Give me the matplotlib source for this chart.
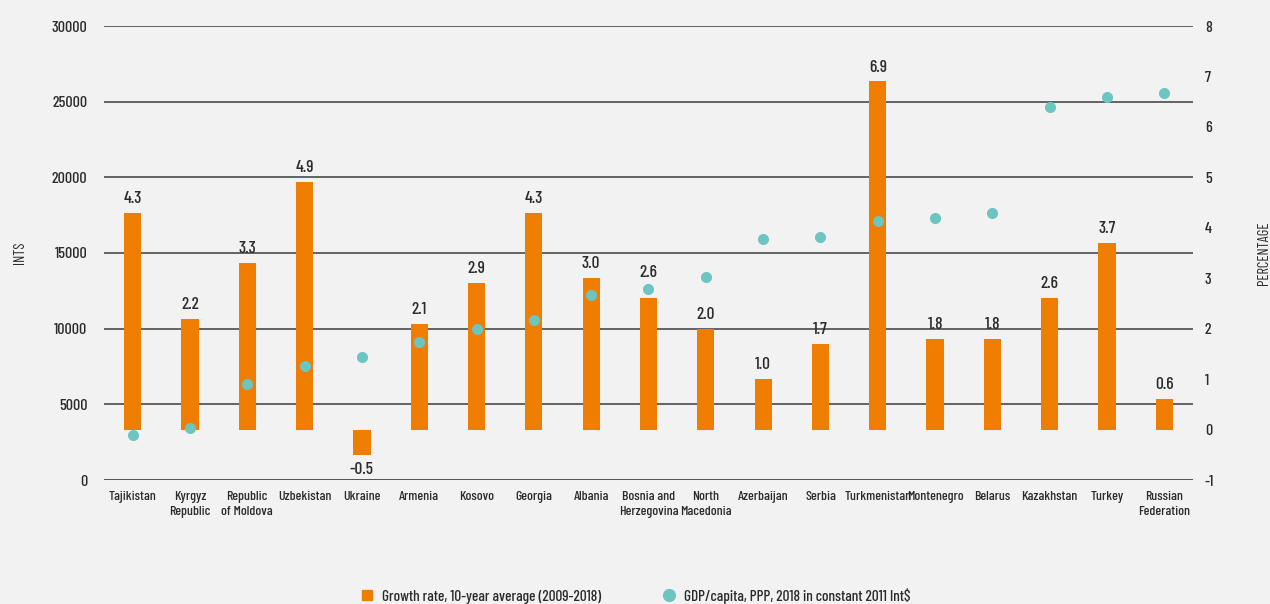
import matplotlib
matplotlib.use("Agg")
import matplotlib.pyplot as plt
from matplotlib.lines import Line2D
import numpy as np

countries = ["Tajikistan", "Kyrgyz\nRepublic", "Republic\nof Moldova", "Uzbekistan", "Ukraine",
             "Armenia", "Kosovo", "Georgia", "Albania", "Bosnia and\nHerzegovina", "North\nMacedonia",
             "Azerbaijan", "Serbia", "Turkmenistan", "Montenegro", "Belarus", "Kazakhstan",
             "Turkey", "Russian\nFederation"]
growth = [4.3, 2.2, 3.3, 4.9, -0.5, 2.1, 2.9, 4.3, 3.0, 2.6, 2.0, 1.0, 1.7, 6.9, 1.8, 1.8, 2.6, 3.7, 0.6]
gdp = [2990, 3430, 6340, 7560, 8120, 9150, 9970, 10580, 12210, 12650, 13440,
       15930, 16060, 17110, 17310, 17660, 24680, 25340, 25560]
left_ticks = [0, 5000, 10000, 15000, 20000, 25000, 30000]
right_ticks = [-1, 0, 1, 2, 3, 4, 5, 6, 7, 8]

plt.rcParams['font.family'] = ['Barlow Condensed', 'Roboto Condensed', 'IBM Plex Sans Condensed', 'DejaVu Sans']
plt.rcParams['font.weight'] = 'medium'
BG = "#f2f2f2"
ORANGE = "#ef7d00"
TEAL = "#6cc5c1"
TXT = "#2b2b2b"

fig = plt.figure(figsize=(12.7, 6.04), dpi=100, facecolor=BG)
ax = fig.add_axes([104/1270, 1-480/604, (1193-104)/1270, (480-26)/604])
ax.set_facecolor(BG)
x = np.arange(len(countries))
ax.set_xlim(-0.5, len(countries)-0.5)
ax.set_ylim(0, 30000)
ax.set_yticks(left_ticks)
ax.set_yticklabels([str(t) for t in left_ticks], fontsize=11.5, color=TXT)
ax.tick_params(axis='y', length=0, pad=12)
ax.set_xticks(x)
ax.set_xticklabels(countries, fontsize=10, color=TXT, linespacing=1.35)
ax.tick_params(axis='x', length=0, pad=8)
for t in left_ticks:
    ax.axhline(t, color="#4a4a4a" if t > 0 else "#222222", lw=1.2 if t > 0 else 1.8, zorder=0)
for s in ax.spines.values():
    s.set_visible(False)
ax.set_ylabel("INTS", fontsize=10.5, color=TXT, labelpad=18)

ax2 = ax.twinx()
ax2.set_ylim(-1, 8)
for s in ax2.spines.values():
    s.set_visible(False)
ax2.bar(x, growth, width=0.3, color=ORANGE, zorder=2)

ax3 = ax.twinx()
ax3.set_ylim(0, 30000)
ax3.set_yticks([])
for s in ax3.spines.values():
    s.set_visible(False)
ax3.scatter(x, gdp, s=64, color=TEAL, zorder=3, linewidths=0)

# value labels; lift a label above a dot sitting just over its bar
for xi, g, d in zip(x, growth, gdp):
    if g >= 0:
        dot_disp = ax3.transData.transform((xi, d))[1]
        bar_disp = ax2.transData.transform((xi, g))[1]
        if 0 < dot_disp - bar_disp < 25:
            ax3.annotate(f"{g:.1f}", (xi, d), xytext=(0, 6), textcoords="offset points",
                         ha="center", va="bottom", fontsize=12.5, color=TXT)
        else:
            ax2.annotate(f"{g:.1f}", (xi, g), xytext=(0, 5), textcoords="offset points",
                         ha="center", va="bottom", fontsize=12.5, color=TXT)
    else:
        ax2.annotate(f"{g:.1f}", (xi, g), xytext=(0, -5), textcoords="offset points",
                     ha="center", va="top", fontsize=12.5, color=TXT)

ax2.yaxis.tick_right()
ax2.yaxis.set_label_position("right")
ax2.set_yticks(right_ticks)
ax2.set_yticklabels([str(t) for t in right_ticks], fontsize=11.5, color=TXT)
ax2.tick_params(axis='y', length=0, pad=8.5)
ax2.set_ylabel("PERCENTAGE", fontsize=10.5, color=TXT, labelpad=31)

handles = [Line2D([], [], marker='s', color=ORANGE, ls='none', markersize=6.5),
           Line2D([], [], marker='o', color=TEAL, ls='none', markersize=8.5)]
labels = ["Growth rate, 10-year average (2009-2018)", "GDP/capita, PPP, 2018 in constant 2011 Int$"]
leg = fig.legend(handles, labels, loc="lower center", bbox_to_anchor=(0.5, -0.022), ncol=2,
                 frameon=False, fontsize=11, columnspacing=3.9, handletextpad=0.5, handlelength=1)
for t in leg.get_texts():
    t.set_color(TXT)

fig.savefig("out.png", dpi=100, facecolor=BG)
